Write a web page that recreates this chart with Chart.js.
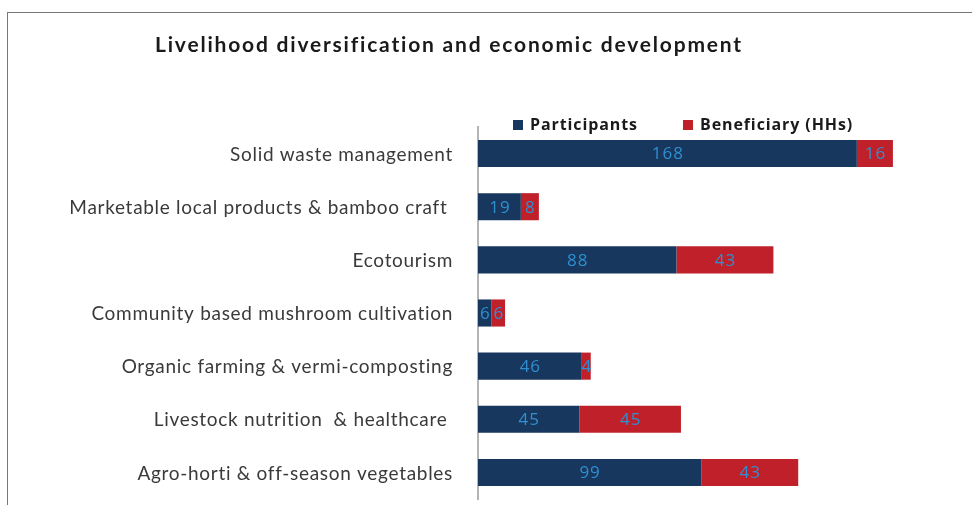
<html>
<head>
<meta charset="UTF-8">
<script src="https://cdn.jsdelivr.net/npm/chart.js"></script>
<style>
  html, body { margin: 0; padding: 0; background: #fff; overflow: hidden; }
  #frame { position: absolute; left: 7px; top: 12px; width: 1000px; height: 600px;
           border-left: 1px solid #777; border-top: 1px solid #777; }
  #wrap { position: absolute; left: 0; top: 0; width: 972px; height: 505px; }
</style>
</head>
<body>
<div id="frame"></div>
<div id="wrap"><canvas id="myChart" width="972" height="505"></canvas></div>
<script>
const categories = [
  'Solid waste management',
  'Marketable local products & bamboo craft ',
  'Ecotourism',
  'Community based mushroom cultivation',
  'Organic farming & vermi-composting',
  'Livestock nutrition  & healthcare ',
  'Agro-horti & off-season vegetables'
];
const participants = [168, 19, 88, 6, 46, 45, 99];
const beneficiaries = [16, 8, 43, 6, 4, 45, 43];
const chartTitle = 'Livelihood diversification and economic development';

// title, legend, category labels and value labels drawn by hand to match the layout
const extras = {
  id: 'extras',
  afterDatasetsDraw(chart) {
    const c = chart.ctx;
    c.save();
    c.font = '17px "Open Sans"';
    c.letterSpacing = '1px';
    c.fillStyle = '#2f8fd0';
    c.textAlign = 'center';
    c.textBaseline = 'middle';
    chart.data.datasets.forEach((ds, i) => {
      chart.getDatasetMeta(i).data.forEach((bar, j) => {
        const x = (bar.x + bar.base) / 2;
        c.fillText(String(ds.data[j]), x + 0.5, bar.y + 1);
      });
    });
    c.restore();
  },
  afterDraw(chart) {
    const c = chart.ctx;
    const yScale = chart.scales.y;
    c.save();
    c.textBaseline = 'middle';

    // category labels
    c.font = '19px Lato';
    c.letterSpacing = '0.7px';
    c.fillStyle = '#3a3a3a';
    c.textAlign = 'right';
    chart.data.labels.forEach((lab, i) => {
      c.fillText(lab, 453, yScale.getPixelForTick(i) + 1);
    });

    // title
    c.textAlign = 'left';
    c.fillStyle = '#1a1a1a';
    c.font = 'bold 21px Lato';
    c.letterSpacing = '1.8px';
    c.fillText(chartTitle, 155, 45);

    // legend
    const items = [[513, 0], [683, 1]];
    c.font = 'bold 16px "Open Sans"';
    c.letterSpacing = '0.9px';
    items.forEach(([x, i]) => {
      const ds = chart.data.datasets[i];
      c.fillStyle = ds.backgroundColor;
      c.fillRect(x, 120, 10, 10);
      c.fillStyle = '#1a1a1a';
      c.fillText(ds.label, x + 17, 125);
    });
    c.restore();
  }
};

new Chart(document.getElementById('myChart'), {
  type: 'bar',
  data: {
    labels: categories,
    datasets: [
      { label: 'Participants', data: participants, backgroundColor: '#17375e',
        barPercentage: 0.51, categoryPercentage: 1 },
      { label: 'Beneficiary (HHs)', data: beneficiaries, backgroundColor: '#c0202a',
        barPercentage: 0.51, categoryPercentage: 1 }
    ]
  },
  options: {
    indexAxis: 'y',
    responsive: false,
    animation: false,
    layout: { padding: { top: 127, bottom: 6, right: 43, left: 0 } },
    scales: {
      x: { stacked: true, min: 0, max: 200, display: false },
      y: {
        stacked: true,
        afterFit(scale) {
          scale.width = 478;
          scale.paddingTop = 0;
          scale.paddingBottom = 0;
        },
        grid: { color: 'transparent', drawTicks: false },
        border: { display: true, color: '#b4b4b4', width: 2 },
        ticks: { display: false }
      }
    },
    plugins: { legend: { display: false }, title: { display: false }, tooltip: { enabled: false } }
  },
  plugins: [extras]
});
</script>
</body>
</html>
